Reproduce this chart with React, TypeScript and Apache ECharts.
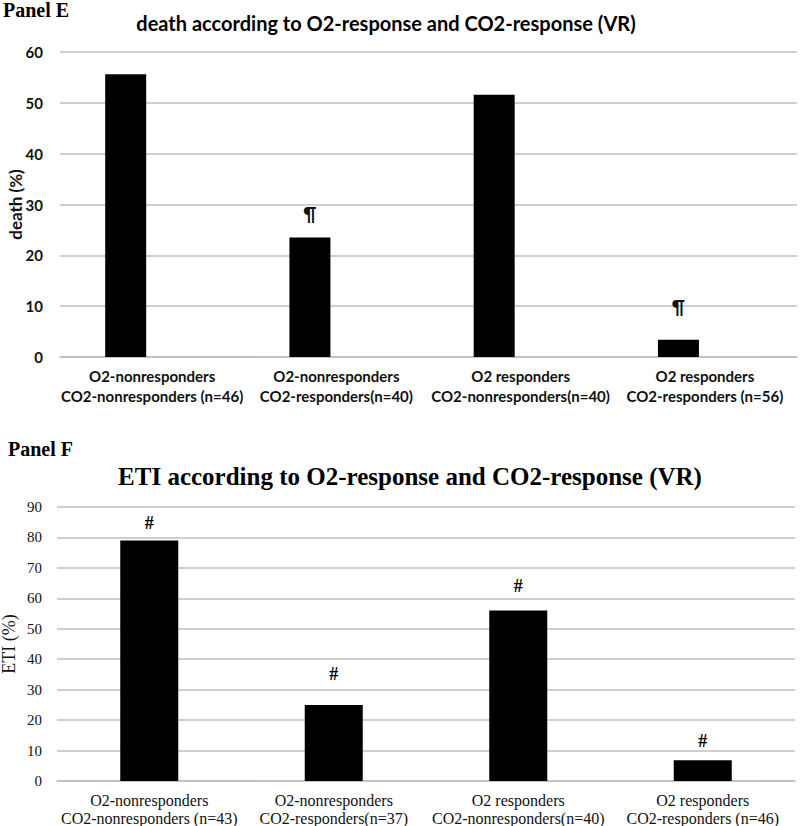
import React, { useEffect, useRef } from "react";
import * as echarts from "echarts";

// ---- Data ----
const categoriesE = [
  "O2-nonresponders\nCO2-nonresponders (n=46)",
  "O2-nonresponders\nCO2-responders(n=40)",
  "O2 responders\nCO2-nonresponders(n=40)",
  "O2 responders\nCO2-responders (n=56)",
];
const deathPct = [55.6, 23.5, 51.6, 3.4];
const deathMarks = ["", "¶", "", "¶"];

const categoriesF = [
  "O2-nonresponders\nCO2-nonresponders (n=43)",
  "O2-nonresponders\nCO2-responders(n=37)",
  "O2 responders\nCO2-nonresponders(n=40)",
  "O2 responders\nCO2-responders (n=46)",
];
const etiPct = [79, 25, 56, 6.8];
const etiMarks = ["#", "#", "#", "#"];

const deathAxis = { min: 0, max: 60, interval: 10 };
const etiAxis = { min: 0, max: 90, interval: 10 };

const titleE = "death according to O2-response and CO2-response (VR)";
const titleF = "ETI according to O2-response and CO2-response (VR)";

const SANS = "Lato, 'Open Sans', sans-serif";
const SERIF = "'Liberation Serif', 'Times New Roman', serif";
const GRID_COLOR = "#bfbfbf";

export default function App() {
  const ref = useRef<HTMLDivElement>(null);

  useEffect(() => {
    if (!ref.current) return;
    const chart = echarts.init(ref.current, undefined, { renderer: "svg" });

    const deathGap = [0, 15, 0, 24];
    const etiGap = [8, 22, 16, 10];

    const option: any = {
      animation: false,
      backgroundColor: "#fff",
      grid: [
        { left: 60, right: 3, top: 52, height: 305, containLabel: false, outerBoundsMode: "none" },
        { left: 57, right: 5, top: 507, height: 274, containLabel: false, outerBoundsMode: "none" },
      ],
      xAxis: [
        {
          type: "category",
          gridIndex: 0,
          data: categoriesE,
          axisTick: { show: false },
          axisLine: { show: true, lineStyle: { color: GRID_COLOR, width: 1.5 } },
          axisLabel: {
            interval: 0,
            margin: 9,
            fontFamily: SANS,
            fontWeight: "bold",
            fontSize: 15,
            lineHeight: 20,
            color: "#111",
          },
        },
        {
          type: "category",
          gridIndex: 1,
          data: categoriesF,
          axisTick: { show: false },
          axisLine: { show: true, lineStyle: { color: GRID_COLOR, width: 1.5 } },
          axisLabel: {
            interval: 0,
            margin: 10,
            fontFamily: SERIF,
            fontSize: 16,
            lineHeight: 18,
            color: "#111",
          },
        },
      ],
      yAxis: [
        {
          type: "value",
          gridIndex: 0,
          min: deathAxis.min,
          max: deathAxis.max,
          interval: deathAxis.interval,
          name: "death (%)",
          nameLocation: "middle",
          nameGap: 36,
          nameMoveOverlap: false,
          nameTextStyle: { fontFamily: SANS, fontWeight: "bold", fontSize: 17, color: "#111" },
          axisLine: { show: false },
          axisTick: { show: false },
          splitLine: { show: true, lineStyle: { color: GRID_COLOR, width: 1.5 } },
          axisLabel: { margin: 17, fontFamily: SANS, fontWeight: "bold", fontSize: 15, color: "#111" },
        },
        {
          type: "value",
          gridIndex: 1,
          min: etiAxis.min,
          max: etiAxis.max,
          interval: etiAxis.interval,
          name: "ETI (%)",
          nameLocation: "middle",
          nameGap: 39,
          nameMoveOverlap: false,
          nameTextStyle: { fontFamily: SERIF, fontSize: 18, color: "#111" },
          axisLine: { show: false },
          axisTick: { show: false },
          splitLine: { show: true, lineStyle: { color: GRID_COLOR, width: 1.5 } },
          axisLabel: { margin: 15, fontFamily: SERIF, fontSize: 15, color: "#111" },
        },
      ],
      series: [
        {
          type: "bar",
          xAxisIndex: 0,
          yAxisIndex: 0,
          barWidth: 41,
          barGap: "29%",
          itemStyle: { color: "#000" },
          data: deathPct.map((v, i) => ({
            value: v,
            label: {
              show: deathMarks[i] !== "",
              position: "top",
              distance: deathGap[i],
              formatter: deathMarks[i],
              fontFamily: SANS,
              fontWeight: "bold",
              fontSize: 18,
              color: "#111",
            },
          })),
        },
        {
          type: "bar",
          xAxisIndex: 0,
          yAxisIndex: 0,
          barWidth: 41,
          itemStyle: { color: "#000" },
          data: deathPct.map(() => "-"),
        },
        {
          type: "bar",
          xAxisIndex: 1,
          yAxisIndex: 1,
          barWidth: 58,
          itemStyle: { color: "#000" },
          data: etiPct.map((v, i) => ({
            value: v,
            label: {
              show: true,
              position: "top",
              distance: etiGap[i],
              formatter: etiMarks[i],
              fontFamily: SERIF,
              fontWeight: "bold",
              fontSize: 18,
              color: "#000",
            },
          })),
        },
      ],
      graphic: [
        {
          type: "text",
          left: 3,
          top: 0,
          style: { text: "Panel E", fontFamily: SERIF, fontWeight: "bold", fontSize: 20, fill: "#000" },
        },
        {
          type: "text",
          x: 386,
          y: 23,
          style: {
            text: titleE,
            fontFamily: SANS,
            fontWeight: "bold",
            fontSize: 20,
            fill: "#000",
            textAlign: "center",
            textVerticalAlign: "middle",
          },
        },
        {
          type: "text",
          left: 8,
          top: 439,
          style: { text: "Panel F", fontFamily: SERIF, fontWeight: "bold", fontSize: 20, fill: "#000" },
        },
        {
          type: "text",
          x: 410,
          y: 476,
          style: {
            text: titleF,
            fontFamily: SERIF,
            fontWeight: "bold",
            fontSize: 25,
            fill: "#000",
            textAlign: "center",
            textVerticalAlign: "middle",
          },
        },
      ],
    };

    chart.setOption(option);
    return () => chart.dispose();
  }, []);

  return (
    <div
      ref={ref}
      style={{ position: "fixed", left: 0, top: 0, width: 800, height: 826, background: "#fff" }}
    />
  );
}
